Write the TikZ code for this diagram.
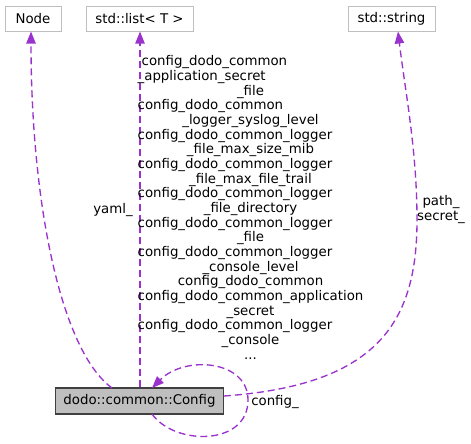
\documentclass[tikz,border=0pt]{standalone}
\usepackage{fontspec}
\setmainfont{DejaVu Sans}
\usetikzlibrary{arrows.meta}
\definecolor{edgecol}{HTML}{9A32CD}
\definecolor{boxgray}{HTML}{BFBFBF}
\definecolor{boxdark}{HTML}{404040}
\begin{document}
\begin{tikzpicture}[x=0.75pt,y=-0.75pt,
  every node/.style={font=\fontsize{10}{11}\selectfont, text=black},
  cls/.style={draw=boxgray, line width=0.75pt, fill=white, minimum height=25*0.75pt, inner sep=0pt},
  main/.style={draw=boxdark, line width=0.9pt, fill=boxgray, minimum height=26*0.75pt, minimum width=168*0.75pt, inner sep=0pt},
  rel/.style={draw=edgecol, line width=1pt, dash pattern=on 5.25pt off 3pt,
    -{Triangle[length=9pt,width=7pt,fill=edgecol]}},
  lbl/.style={inner sep=0pt, align=center}
]
\useasboundingbox (0,0) rectangle (471,443);

\node[cls, minimum width=56*0.75pt] (node) at (33,18.5) {Node};
\node[cls, minimum width=107*0.75pt] (list) at (139.5,18.5) {std::list< T >};
\node[cls, minimum width=87*0.75pt] (str) at (391.5,18.5) {std::string};
\node[main] (cfg) at (139.5,401) {dodo::common::Config};

\coordinate (cfgtl) at (112,388);
\coordinate (cfgr) at (224,396);
\coordinate (cfgb) at (152,414);
\coordinate (cfgt) at (152,388);
\coordinate (strmid) at (417,220);

% yaml_ -> Node
\draw[rel] (cfgtl) .. controls (60,350) and (31,200) .. (node.south -| 31,0);
% list edge
\draw[rel] (cfg.north -| 140,0) -- (list.south -| 140,0);
% string edge
\draw[rel] (cfgr) .. controls (380,385) and (417,320) .. (strmid)
  .. controls (417,150) and (405,90) .. (str.south -| 398,0);
% self loop
\draw[rel] (cfgb) .. controls (175,446) and (248,446) .. (248,400)
  .. controls (248,360) and (185,355) .. (cfgt);

\node[lbl] (lyaml) at (113,210) {yaml\_};
\node[lbl] (lpath) at (441,209.5) {path\_\\secret\_};
\node[lbl] (lcfg) at (275,402) {config\_};
\node[lbl] (llist) at (250.5,209.7) {%
\begin{tabular}{@{}c@{}}
\multicolumn{1}{@{}l@{}}{\hspace{3pt}config\_dodo\_common}\\
\multicolumn{1}{@{}l@{}}{\_application\_secret}\\
\_file\\
\multicolumn{1}{@{}l@{}}{config\_dodo\_common}\\
\_logger\_syslog\_level\\
\multicolumn{1}{@{}l@{}}{config\_dodo\_common\_logger}\\
\_file\_max\_size\_mib\\
\multicolumn{1}{@{}l@{}}{config\_dodo\_common\_logger}\\
\_file\_max\_file\_trail\\
\multicolumn{1}{@{}l@{}}{config\_dodo\_common\_logger}\\
\_file\_directory\\
\multicolumn{1}{@{}l@{}}{config\_dodo\_common\_logger}\\
\_file\\
\multicolumn{1}{@{}l@{}}{config\_dodo\_common\_logger}\\
\_console\_level\\
config\_dodo\_common\\
config\_dodo\_common\_application\\
\_secret\\
\multicolumn{1}{@{}l@{}}{config\_dodo\_common\_logger}\\
\_console\\
...
\end{tabular}};
\end{tikzpicture}
\end{document}
